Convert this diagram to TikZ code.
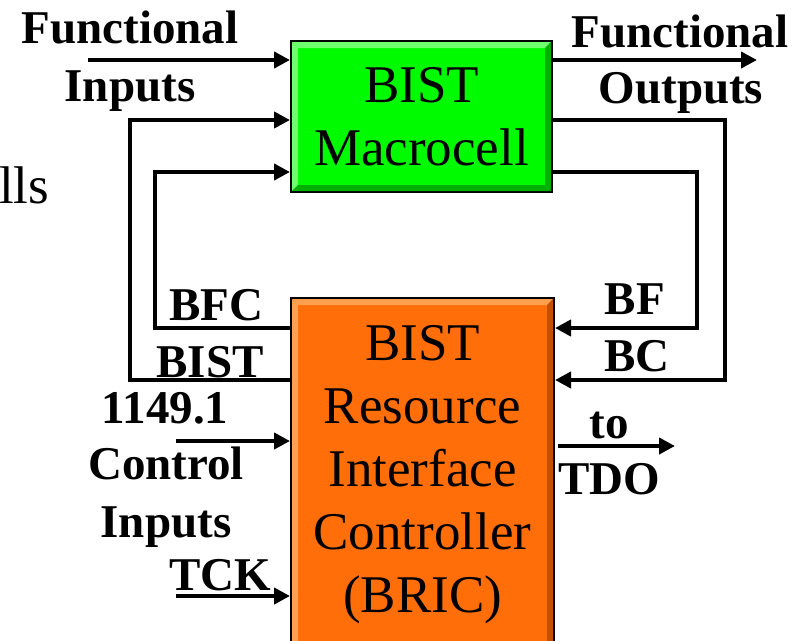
\documentclass[tikz,border=0pt]{standalone}
\usepackage{fontspec}
\setmainfont{Liberation Serif}
\usetikzlibrary{arrows.meta,calc}

\definecolor{macgreen}{RGB}{0,250,0}
\definecolor{macgreenlt}{RGB}{110,255,110}
\definecolor{macgreendk}{RGB}{0,175,0}
\definecolor{bricorange}{RGB}{255,110,8}
\definecolor{bricorangelt}{RGB}{255,160,80}
\definecolor{bricorangedk}{RGB}{195,80,0}

\tikzset{
  blk/.style={draw=black, line width=4pt, inner sep=0pt, align=center,
    font=\fontsize{53}{63}\selectfont},
  wire/.style={line width=4pt, line join=miter},
  arr/.style={wire, -{Triangle[length=16pt,width=16pt]}},
  lbl/.style={font=\fontsize{47}{56}\selectfont\bfseries, inner sep=0pt, anchor=base},
}

% raised-edge shading just inside the border of a box node
\newcommand{\bevelbox}[3]{%
  \fill[#2] ($(#1.north west)+(2,2)$) -- ($(#1.north east)+(-2,2)$)
     -- ($(#1.north east)+(-8,8)$) -- ($(#1.north west)+(8,8)$) -- cycle;
  \fill[#2] ($(#1.north west)+(2,2)$) -- ($(#1.north west)+(8,8)$)
     -- ($(#1.south west)+(8,-8)$) -- ($(#1.south west)+(2,-2)$) -- cycle;
  \fill[#3] ($(#1.north east)+(-2,2)$) -- ($(#1.south east)+(-2,-2)$)
     -- ($(#1.south east)+(-8,-8)$) -- ($(#1.north east)+(-8,8)$) -- cycle;
  \fill[#3] ($(#1.south west)+(2,-2)$) -- ($(#1.south east)+(-2,-2)$)
     -- ($(#1.south east)+(-8,-8)$) -- ($(#1.south west)+(8,-8)$) -- cycle;
}

\begin{document}
\begin{tikzpicture}[x=1pt,y=-1pt]
\useasboundingbox (0,0) rectangle (800,640);

% blocks
\node[blk, fill=macgreen, minimum width=259pt, minimum height=149pt]
  (mac) at (421.5,116.5) {};
\node[blk, fill=bricorange, minimum width=261pt, minimum height=352pt]
  (bric) at (422.5,475) {};
\bevelbox{mac}{macgreenlt}{macgreendk}
\bevelbox{bric}{bricorangelt}{bricorangedk}
\node[blk, draw=none] (mactext) at (mac.center) {BIST\\Macrocell};
\node[blk, draw=none] (brictext) at (bric.center)
  {BIST\\Resource\\Interface\\Controller\\(BRIC)};

% free ends and corner points of the connectors
\coordinate (fin)  at (88,60);
\coordinate (fout) at (757,60);
\coordinate (lA) at (130,120);
\coordinate (lB) at (130,380);
\coordinate (lC) at (155,172);
\coordinate (lD) at (155,328);
\coordinate (rA) at (725,120);
\coordinate (rB) at (725,380);
\coordinate (rC) at (697,172);
\coordinate (rD) at (697,328);
\coordinate (tdo) at (675,446);
\coordinate (ctl) at (176,441);
\coordinate (tck) at (176,596);

% connectors
\draw[arr] (fin) -- (fin -| mac.west);
\draw[arr] (mac.east |- fout) -- (fout);
\draw[arr] (bric.west |- lB) -- (lB) -- (lA) -- (mac.west |- lA);
\draw[arr] (bric.west |- lD) -- (lD) -- (lC) -- (mac.west |- lC);
\draw[arr] (mac.east |- rA) -- (rA) -- (rB) -- (bric.east |- rB);
\draw[arr] (mac.east |- rC) -- (rC) -- (rD) -- (bric.east |- rD);
\draw[arr] ([xshift=3pt]bric.east |- tdo) -- (tdo);
\draw[arr] (ctl) -- (ctl -| bric.west);
\draw[arr] (tck) -- (tck -| bric.west);

% labels
\node[lbl] (finA)  at (130,43)  {Functional};
\node[lbl] (finB)  at (130,101) {Inputs};
\node[lbl] (foutA) at (680,47)  {Functional};
\node[lbl] (foutB) at (681,103) {Outputs};
\node[lbl] (bfc)   at (216,320) {BFC};
\node[lbl] (bist)  at (210,377) {BIST};
\node[lbl] (bf)    at (635,314) {BF};
\node[lbl] (bc)    at (637,371) {BC};
\node[lbl] (toA)   at (609,438) {to};
\node[lbl] (toB)   at (609,494) {TDO};
\node[lbl] (ctlA)  at (165,423) {1149.1};
\node[lbl] (ctlB)  at (166,479) {Control};
\node[lbl] (ctlC)  at (166,537) {Inputs};
\node[lbl] (tckl)  at (220,590) {TCK};

% fragment of slide text at the left edge
\node[inner sep=0pt, anchor=base west, font=\fontsize{53}{63}\selectfont]
  (frag) at (-1,203) {lls};
\end{tikzpicture}
\end{document}
